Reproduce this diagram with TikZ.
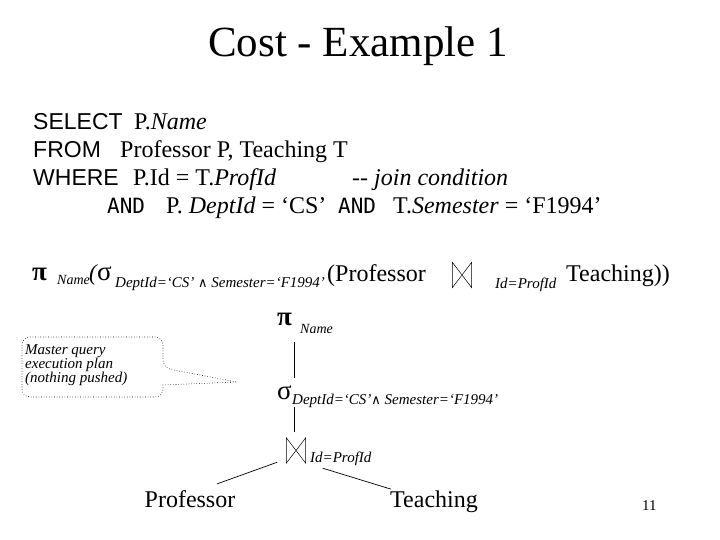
\documentclass[tikz,border=0pt]{standalone}
\usepackage{fontspec}
\usetikzlibrary{calc}
\setmainfont{Liberation Serif}
\newfontfamily\arialfont{Liberation Sans}
\newfontfamily\andfont{DejaVu Sans Mono}
\newfontfamily\symfont{DejaVu Serif}
\newcommand\fs[1]{\fontsize{#1}{#1}\selectfont}
\begin{document}
\begin{tikzpicture}[x=1pt,y=-1pt,
  txt/.style={inner sep=0pt,anchor=base west},
  sub/.style={txt,font=\fs{15}\itshape},
  big/.style={txt,font=\fs{24}},
  sans/.style={txt,font=\arialfont\fs{23}},
  andtxt/.style={txt,font=\andfont\fs{21}},
  pisym/.style={txt,font=\fs{27}\bfseries},
  sigsym/.style={txt,font=\fs{27}},
  joinbox/.style={inner sep=0pt,minimum width=19pt,minimum height=25pt},
  edge/.style={line width=0.7pt},
  tie/.style={line width=0.5pt},
  callbox/.style={dotted,line width=0.6pt}]
\useasboundingbox (0,0) rectangle (720,540);
\fill[white] (0,0) rectangle (720,540);
% title
\node[inner sep=0pt,anchor=base,font=\fs{43}] (title) at (358,57) {Cost - Example 1};
% SQL
\node[sans] (sel) at (33,130) {SELECT};
\node[big] (selx) at (134,130) {P.\textit{Name}};
\node[sans] (from) at (33,158) {FROM};
\node[big] (fromx) at (120,158) {Professor P, Teaching T};
\node[sans] (where) at (33,186) {WHERE};
\node[big] (wherex) at (133,186) {P.Id = T.\textit{ProfId}};
\node[big] (comm) at (352,186) {\textit{-{}- join condition}};
\node[andtxt] (and1) at (107,214) {AND};
\node[big] (cond1) at (166,214) {P. \textit{DeptId} = ‘CS’};
\node[andtxt] (and2) at (338,214) {AND};
\node[big] (cond2) at (393,214) {T.\textit{Semester} = ‘F1994’};
% expression
\node[pisym] (epi) at (32,280) {π};
\node[sub,font=\fs{14}\itshape] (ename) at (57,284) {Name};
\node[txt,font=\fs{23}\itshape] (epar) at (89,280) {(};
\node[sigsym] (esig) at (97,280) {σ};
\node[sub] (esub) at (115,287) {DeptId=‘CS’ {\symfont\fs{13}∧} Semester=‘F1994’};
\node[big] (eprof) at (327,281) {(Professor};
\node[joinbox] (ejoin) at (462,275) {};
\draw[tie] (ejoin.north west) -- (ejoin.south west) -- (ejoin.north east) -- (ejoin.south east) -- cycle;
\node[sub] (econd) at (495,288) {Id=ProfId};
\node[big] (eteach) at (566,281) {Teaching))};
% callout
\node[txt,font=\fs{15}\itshape,align=left,anchor=north west] (note) at (25,344) {Master query\\[-1pt]execution plan\\[-1pt](nothing pushed)};
\coordinate (tip) at (237,382);
\draw[callbox,rounded corners=8pt] (30,337) -- (163,337) -- (163,368) [sharp corners] -- (tip) -- (163,385) [rounded corners=8pt] -- (163,397) -- (22,397) -- (22,337) -- (30,337);
% tree
\node[pisym,anchor=base east] (tpi) at (292,325) {π};
\node[sub,font=\fs{14}\itshape] (tname) at (300,333) {Name};
\node[sigsym,anchor=base east] (tsig) at (292,399) {σ};
\node[sub] (tsub) at (292,404) {DeptId=‘CS’{\symfont\fs{13}∧} Semester=‘F1994’};
\node[joinbox] (tjoin) at (296,450.5) {};
\draw[tie] (tjoin.north west) -- (tjoin.south west) -- (tjoin.north east) -- (tjoin.south east) -- cycle;
\node[sub] (tcond) at (310,462) {Id=ProfId};
\node[big,anchor=base] (tprof) at (190,507) {Professor};
\node[big,anchor=base] (tteach) at (434,507) {Teaching};
\node[txt,font=\fs{15}] (pg) at (642,510) {11};
\coordinate (trunk) at (294,0);
\draw[edge] ($(tpi.base -| trunk)+(0,17)$) -- ($(tsig.base -| trunk)+(0,-21)$);
\draw[edge] ($(tsig.base -| trunk)+(0,8)$) -- ($(tjoin.north -| trunk)+(0,-6)$);
\draw[edge] ($(tjoin.south west)+(-9,-1)$) -- ($(tprof.north)+(27,-6)$);
\draw[edge] ($(tjoin.south east)+(17,5)$) -- ($(tteach.north)+(-43,-1)$);
\end{tikzpicture}
\end{document}
